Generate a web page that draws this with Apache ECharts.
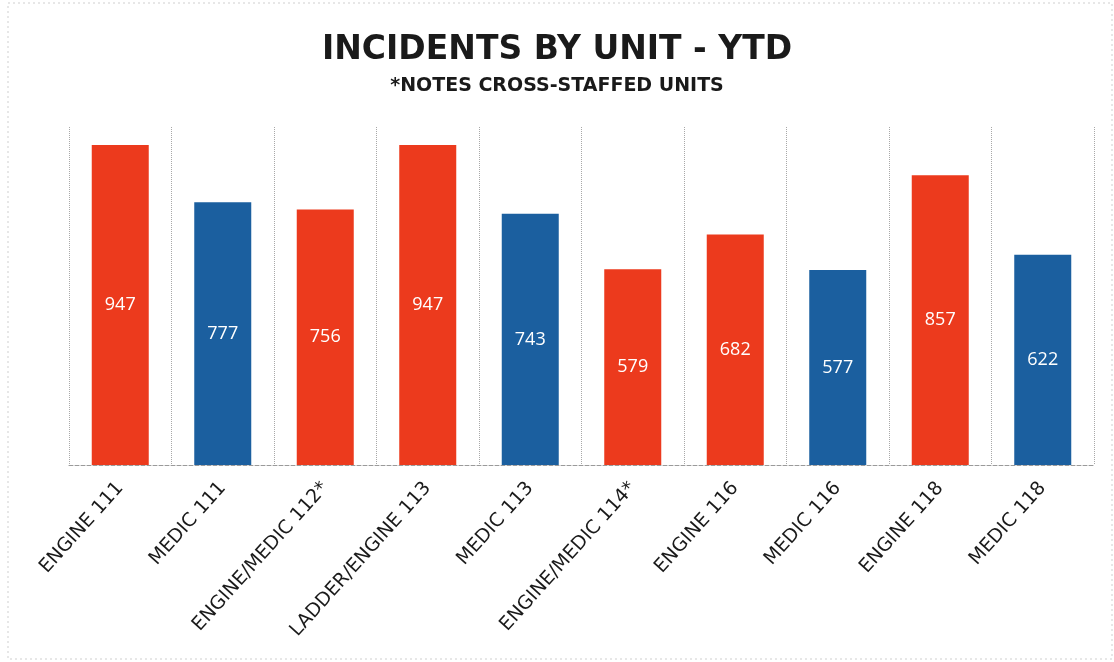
<!DOCTYPE html>
<html>
<head>
<meta charset="utf-8">
<script src="https://cdn.jsdelivr.net/npm/echarts@6/dist/echarts.min.js"></script>
<style>
  html, body { margin: 0; padding: 0; background: #ffffff; }
  #chart { width: 1114px; height: 662px; }
</style>
</head>
<body>
<div id="chart"></div>
<script>
// Units and their year-to-date incident counts
const units = [
  'ENGINE 111', 'MEDIC 111', 'ENGINE/MEDIC 112*', 'LADDER/ENGINE 113', 'MEDIC 113',
  'ENGINE/MEDIC 114*', 'ENGINE 116', 'MEDIC 116', 'ENGINE 118', 'MEDIC 118'
];
const incidents = [947, 777, 756, 947, 743, 579, 682, 577, 857, 622];
// Unit type per bar: engines/ladders in red, medics in blue
const unitKind = ['engine', 'medic', 'engine', 'engine', 'medic', 'engine', 'engine', 'medic', 'engine', 'medic'];

const kindColor = { engine: '#ec3a1d', medic: '#1b5f9f' };

const chart = echarts.init(document.getElementById('chart'));
chart.setOption({
  backgroundColor: '#ffffff',
  graphic: [{
    type: 'rect',
    shape: { x: 8, y: 3, width: 1104, height: 656 },
    style: { fill: 'none', stroke: '#cfcfcf', lineWidth: 1, lineDash: [2, 3] },
    silent: true
  }],
  title: {
    text: 'INCIDENTS BY UNIT - YTD',
    subtext: '*NOTES CROSS-STAFFED UNITS',
    left: 'center',
    top: 29,
    itemGap: 10,
    textStyle: { fontFamily: 'DejaVu Sans', fontWeight: 'bold', fontSize: 33, color: '#1a1a1a' },
    subtextStyle: { fontFamily: 'DejaVu Sans', fontWeight: 'bold', fontSize: 19, color: '#1a1a1a' }
  },
  grid: { left: 69, right: 20, top: 127, bottom: 197, containLabel: false },
  xAxis: {
    type: 'category',
    data: units,
    boundaryGap: true,
    axisTick: { show: false },
    axisLine: { show: true, lineStyle: { color: '#9a9a9a', type: 'dashed', width: 1 } },
    splitLine: { show: true, interval: 0, lineStyle: { color: '#a8a8a8', type: 'dotted', width: 1 } },
    axisLabel: {
      interval: 0,
      rotate: 48,
      margin: 20,
      fontFamily: 'DejaVu Sans',
      fontSize: 19,
      color: '#1a1a1a'
    }
  },
  yAxis: {
    type: 'value',
    min: 0,
    max: 1000,
    show: false,
    splitLine: { show: false }
  },
  series: [{
    type: 'bar',
    barWidth: 57,
    data: incidents.map((v, i) => ({ value: v, itemStyle: { color: kindColor[unitKind[i]] } })),
    label: {
      show: true,
      position: 'inside',
      fontFamily: 'Open Sans',
      fontSize: 18,
      color: '#ffffff'
    }
  }]
});
</script>
</body>
</html>
